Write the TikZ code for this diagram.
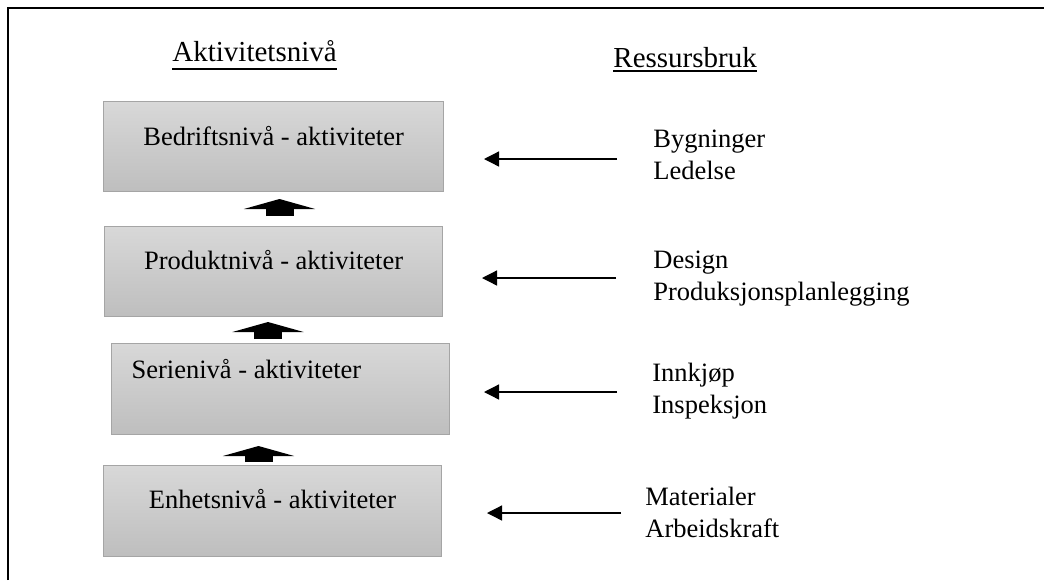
\documentclass[tikz,border=0pt]{standalone}
\usepackage{fontspec}
\setmainfont{Liberation Serif}
\usetikzlibrary{arrows.meta,calc}
\definecolor{boxtop}{RGB}{216,216,216}
\definecolor{boxbot}{RGB}{190,190,190}
\definecolor{boxline}{RGB}{165,165,165}
\begin{document}
\begin{tikzpicture}[x=0.5pt,y=-0.5pt,
  level/.style={draw=boxline, line width=0.6pt, top color=boxtop, bottom color=boxbot,
    inner sep=0pt, anchor=north west, font=\fontsize{13.25}{16}\selectfont},
  heading/.style={inner sep=0pt, anchor=base west, font=\fontsize{14.5}{17}\selectfont},
  uline/.style={line width=0.7pt},
  resource/.style={inner sep=0pt, anchor=base west, align=left,
    font=\fontsize{13.25}{16}\selectfont},
  feed/.style={-{Triangle[length=7.5pt,width=7.5pt]}, line width=0.65pt},
  lift/.style={-{Triangle[length=5pt,width=35.5pt]}, line width=14pt},
  frame/.style={line width=1.2pt},
]
\useasboundingbox (0,0) rectangle (1044,580);

% outer frame
\draw[frame] (8,580) -- (8,8) -- (1044,8);

% column headings
\node[heading] (hact) at (172,61) {Aktivitetsnivå};
\draw[uline] ([yshift=-4pt]hact.base west) -- ([yshift=-4pt]hact.base east);
\node[heading] (hres) at (613,67) {Ressursbruk};
\draw[uline] ([yshift=-2pt]hres.base west) -- ([yshift=-2pt]hres.base east);

% activity levels
\node[level, minimum width=170pt, text height=22pt, text depth=23pt]
  (b1) at (103,101) {Bedriftsnivå - aktiviteter};
\node[level, minimum width=169pt, text height=21.5pt, text depth=23.5pt]
  (b2) at (104,226) {Produktnivå - aktiviteter};
\node[level, minimum width=169pt, text height=17.5pt, text depth=28pt]
  (b3) at (111,343) {\makebox[149pt][l]{Serienivå - aktiviteter}};
\node[level, minimum width=169pt, text height=21.5pt, text depth=24pt]
  (b4) at (103,465) {Enhetsnivå - aktiviteter};

% resources (anchored on the baseline of the second line)
\node[resource] (r1) at (653,179) {Bygninger\\Ledelse};
\node[resource] (r2) at (653,300) {Design\\Produksjonsplanlegging};
\node[resource] (r3) at (652,413) {Innkjøp\\Inspeksjon};
\node[resource] (r4) at (645,537) {Materialer\\Arbeidskraft};

% block arrows between levels
\coordinate (l1s) at (279.5,216); \coordinate (l1e) at (279.5,199);
\coordinate (l2s) at (268,339);   \coordinate (l2e) at (268,322);
\coordinate (l3s) at (258.5,462); \coordinate (l3e) at (258.5,446);
\draw[lift] (l1s) -- (l1e);
\draw[lift] (l2s) -- (l2e);
\draw[lift] (l3s) -- (l3e);

% resource arrows
\coordinate (f1s) at (617,159); \coordinate (f1e) at (484,159);
\coordinate (f2s) at (616,278); \coordinate (f2e) at (482,278);
\coordinate (f3s) at (617,392); \coordinate (f3e) at (484,392);
\coordinate (f4s) at (621,513); \coordinate (f4e) at (487,513);
\draw[feed] (f1s) -- (f1e);
\draw[feed] (f2s) -- (f2e);
\draw[feed] (f3s) -- (f3e);
\draw[feed] (f4s) -- (f4e);
\end{tikzpicture}
\end{document}
